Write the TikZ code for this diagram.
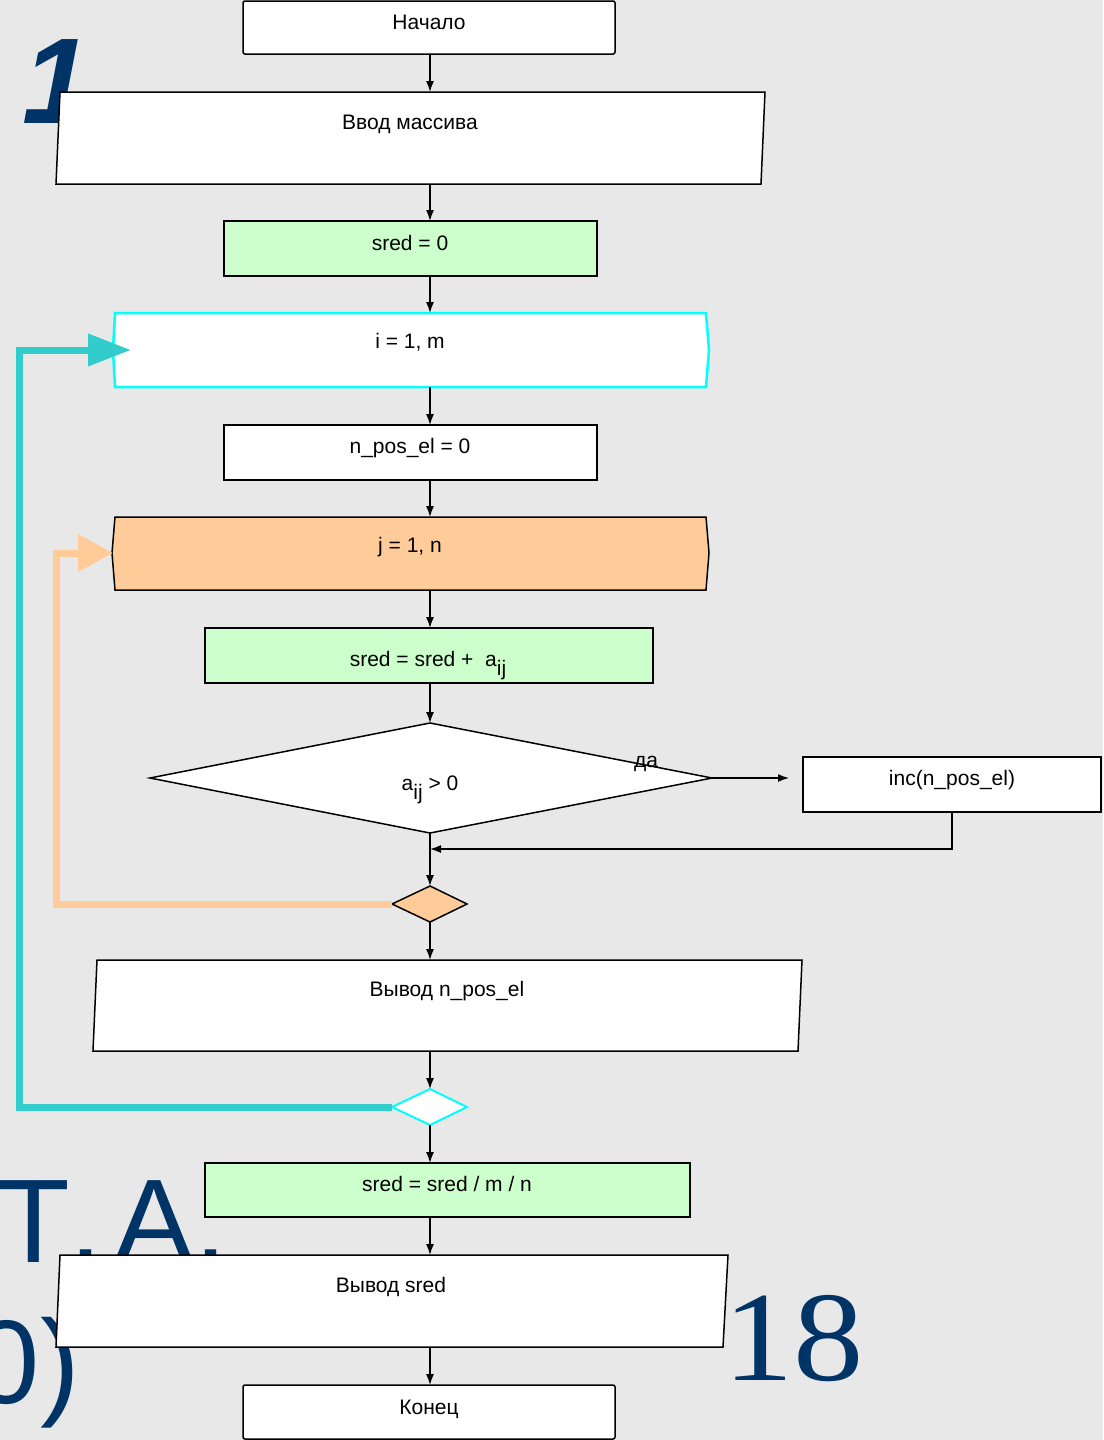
\documentclass[tikz,border=0pt]{standalone}
\usepackage{fontspec}
\setmainfont{Liberation Sans}
\newfontfamily\serifnum{Liberation Serif}
\newfontfamily\nokernsans[Kerning=Off]{Liberation Sans}
\usetikzlibrary{arrows.meta}
\definecolor{bg}{HTML}{E8E8E8}
\definecolor{ttl}{HTML}{003366}
\definecolor{grn}{HTML}{CCFFCC}
\definecolor{pch}{HTML}{FFCC99}
\definecolor{cyb}{HTML}{00FFFF}
\definecolor{cyl}{HTML}{33CCCC}
\begin{document}
\begin{tikzpicture}[x=1pt,y=-1pt,
  shp/.style={draw=black,line width=1.5pt,line join=miter},
  lbl/.style={font=\fontsize{21}{24}\selectfont,inner sep=0,anchor=base},
  flow/.style={draw=black,line width=1.4pt,-{Latex[length=11pt,width=8pt]}},
  bigtxt/.style={text=ttl,inner sep=0},
  oloop/.style={draw=pch,line width=7pt,-{Triangle[length=35pt,width=36pt]}},
  cloop/.style={draw=cyl,line width=7pt,-{Triangle[length=43pt,width=31pt]}}
]
\fill[bg] (0,0) rectangle (1103,1440);
\useasboundingbox (0,0) rectangle (1103,1440);
\clip (0,0) rectangle (1103,1440);

% background titles
\node[bigtxt,anchor=base west,font=\fontsize{122}{122}\selectfont\bfseries\itshape] (one) at (22,123) {1};
\node[bigtxt,anchor=base west,font=\nokernsans\fontsize{119}{119}\selectfont] (ta) at (-3,1262) {Т.\kern12pt А.};
\node[bigtxt,anchor=base east,font=\fontsize{119}{119}\selectfont] (zp) at (80,1403) {0)};
\node[bigtxt,anchor=base west,font=\serifnum\fontsize{128}{128}\selectfont] (eighteen) at (723,1380) {\scalebox{1.1}[1]{18}};

% shapes
\draw[shp,fill=white,rounded corners=2pt] (243,1) rectangle (615,54);
\coordinate (start-s) at (430,54);

\draw[shp,fill=white] (60,92) -- (765,92) -- (761,184) -- (56,184) -- cycle;
\coordinate (in1-n) at (430,92); \coordinate (in1-s) at (430,184);

\draw[shp,fill=grn] (224,221) rectangle (597,276);
\coordinate (s0-n) at (430,221); \coordinate (s0-s) at (430,276);

\draw[draw=cyb,line width=2.5pt,fill=white] (115,313) -- (706,313) -- (709,350) -- (706,387) -- (115,387) -- (113,350) -- cycle;
\coordinate (li-n) at (430,313); \coordinate (li-s) at (430,387); \coordinate (li-w) at (131,350);

\draw[shp,fill=white] (224,425) rectangle (597,480);
\coordinate (np-n) at (430,425); \coordinate (np-s) at (430,480);

\draw[shp,fill=pch] (115,517) -- (706,517) -- (709,553) -- (706,590) -- (115,590) -- (112,553) -- cycle;
\coordinate (lj-n) at (430,517); \coordinate (lj-s) at (430,590); \coordinate (lj-w) at (113,553);

\draw[shp,fill=grn] (205,628) rectangle (653,683);
\coordinate (add-n) at (430,628); \coordinate (add-s) at (430,683);

\draw[shp,fill=white] (150,778) -- (430,723) -- (712,778) -- (430,833) -- cycle;
\coordinate (dec-n) at (430,723); \coordinate (dec-s) at (430,833); \coordinate (dec-e) at (712,778);

\draw[shp,fill=white] (803,757) rectangle (1101,812);
\coordinate (inc-w) at (789,778); \coordinate (inc-s) at (952,812);
\coordinate (join) at (430,849);

\draw[shp,fill=pch] (392,904) -- (430,886) -- (467,904) -- (430,922) -- cycle;
\coordinate (ej-n) at (430,886); \coordinate (ej-s) at (430,922); \coordinate (ej-w) at (392,904);

\draw[shp,fill=white] (97,960) -- (802,960) -- (798,1051) -- (93,1051) -- cycle;
\coordinate (out1-n) at (430,960); \coordinate (out1-s) at (430,1051);

\draw[draw=cyb,line width=2pt,fill=white] (392,1107) -- (430,1089) -- (467,1107) -- (430,1125) -- cycle;
\coordinate (ei-n) at (430,1089); \coordinate (ei-s) at (430,1125); \coordinate (ei-w) at (392,1107);

\draw[shp,fill=grn] (205,1163) rectangle (690,1217);
\coordinate (avg-n) at (430,1163); \coordinate (avg-s) at (430,1217);

\draw[shp,fill=white] (60,1255) -- (728,1255) -- (723,1347) -- (56,1347) -- cycle;
\coordinate (out2-n) at (430,1255); \coordinate (out2-s) at (430,1347);

\draw[shp,fill=white,rounded corners=2pt] (243,1385) rectangle (615,1439);
\coordinate (end-n) at (430,1385);

% labels
\node[lbl] (t1) at (429,29) {Начало};
\node[lbl] (t2) at (410,129) {Ввод массива};
\node[lbl] (t3) at (410,250) {sred = 0};
\node[lbl] (t4) at (410,348) {i = 1, m};
\node[lbl] (t5) at (410,453) {n\_pos\_el = 0};
\node[lbl] (t6) at (410,552) {j = 1, n};
\node[lbl] (t7) at (428,666) {sred = sred +\ \ a\raisebox{-9pt}{ij}};
\node[lbl] (t8) at (430,790) {a\raisebox{-9pt}{ij} > 0};
\node[lbl] (t9) at (646,767) {да};
\node[lbl] (t10) at (952,785) {inc(n\_pos\_el)};
\node[lbl] (t11) at (447,996) {Вывод n\_pos\_el};
\node[lbl] (t12) at (447,1191) {sred = sred / m / n};
\node[lbl] (t13) at (391,1292) {Вывод sred};
\node[lbl] (t14) at (429,1414) {Конец};

% connectors
\draw[flow] (start-s) -- (in1-n);
\draw[flow] (in1-s) -- (s0-n);
\draw[flow] (s0-s) -- (li-n);
\draw[flow] (li-s) -- (np-n);
\draw[flow] (np-s) -- (lj-n);
\draw[flow] (lj-s) -- (add-n);
\draw[flow] (add-s) -- (dec-n);
\draw[flow] (dec-e) -- (inc-w);
\draw[flow] (inc-s) |- (join);
\draw[flow] (dec-s) -- (ej-n);
\draw[flow] (ej-s) -- (out1-n);
\draw[flow] (out1-s) -- (ei-n);
\draw[flow] (ei-s) -- (avg-n);
\draw[flow] (avg-s) -- (out2-n);
\draw[flow] (out2-s) -- (end-n);

% loop returns
\draw[oloop] (ej-w) -- ++(-336,0) |- (lj-w);
\draw[cloop] (ei-w) -- ++(-373,0) |- (li-w);
\end{tikzpicture}
\end{document}
